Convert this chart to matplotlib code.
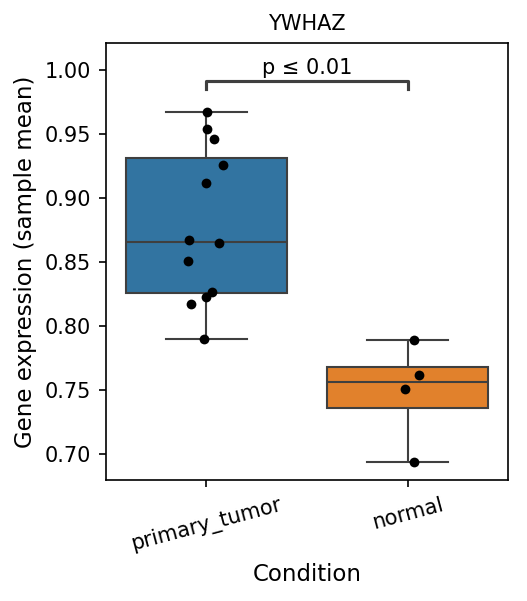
import numpy as np
import matplotlib
matplotlib.use("Agg")
import matplotlib.pyplot as plt
import seaborn as sns
import pandas as pd

# valores
condiciones = ["primary_tumor", "normal"]
tumor_vals = [0.967, 0.954, 0.946, 0.926, 0.912, 0.867, 0.865, 0.8505, 0.8266, 0.8224, 0.817, 0.7896]
tumor_jit = [0.005, 0.005, 0.039, 0.083, 0.0, -0.088, 0.063, -0.093, 0.029, 0.0, -0.078, -0.01]
normal_vals = [0.7888, 0.7615, 0.7505, 0.6935]
normal_jit = [0.03, 0.059, -0.01, 0.034]
p_texto = "p \u2264 0.01"

df = pd.DataFrame({
    "Condition": ["primary_tumor"] * len(tumor_vals) + ["normal"] * len(normal_vals),
    "value": tumor_vals + normal_vals,
})

fig, ax = plt.subplots(figsize=(527 / 150, 601 / 150), dpi=150)
fig.subplots_adjust(left=0.201, right=0.964, top=0.929, bottom=0.2013)

sns.boxplot(data=df, x="Condition", y="value", order=condiciones, hue="Condition",
            palette=["#1f77b4", "#ff7f0e"], showfliers=False, ax=ax, legend=False,
            linecolor="#3f3f3f", linewidth=1.0)

# puntos con desplazamiento fijo (jitter)
for i, (vals, jit) in enumerate([(tumor_vals, tumor_jit), (normal_vals, normal_jit)]):
    ax.scatter(np.array(jit) + i, vals, s=22, color="black", zorder=5, linewidths=0)

ax.set_xlim(-0.5, 1.5)
ax.set_ylim(0.6797, 1.0213)

# barra de significancia
y_b, h = 0.985, 0.0064
ax.plot([0, 0, 1, 1], [y_b, y_b + h, y_b + h, y_b], color="#3f3f3f", lw=1.5)
ax.text(0.5, y_b + h + 0.002, p_texto, ha="center", va="bottom", fontsize=10)

ax.set_title("YWHAZ", fontsize=10)
ax.set_xlabel("Condition", fontsize=11)
ax.set_ylabel("Gene expression (sample mean)", fontsize=11)
ax.tick_params(axis="both", labelsize=10)
plt.setp(ax.get_xticklabels(), rotation=15)

fig.savefig("out.png", dpi=150)
